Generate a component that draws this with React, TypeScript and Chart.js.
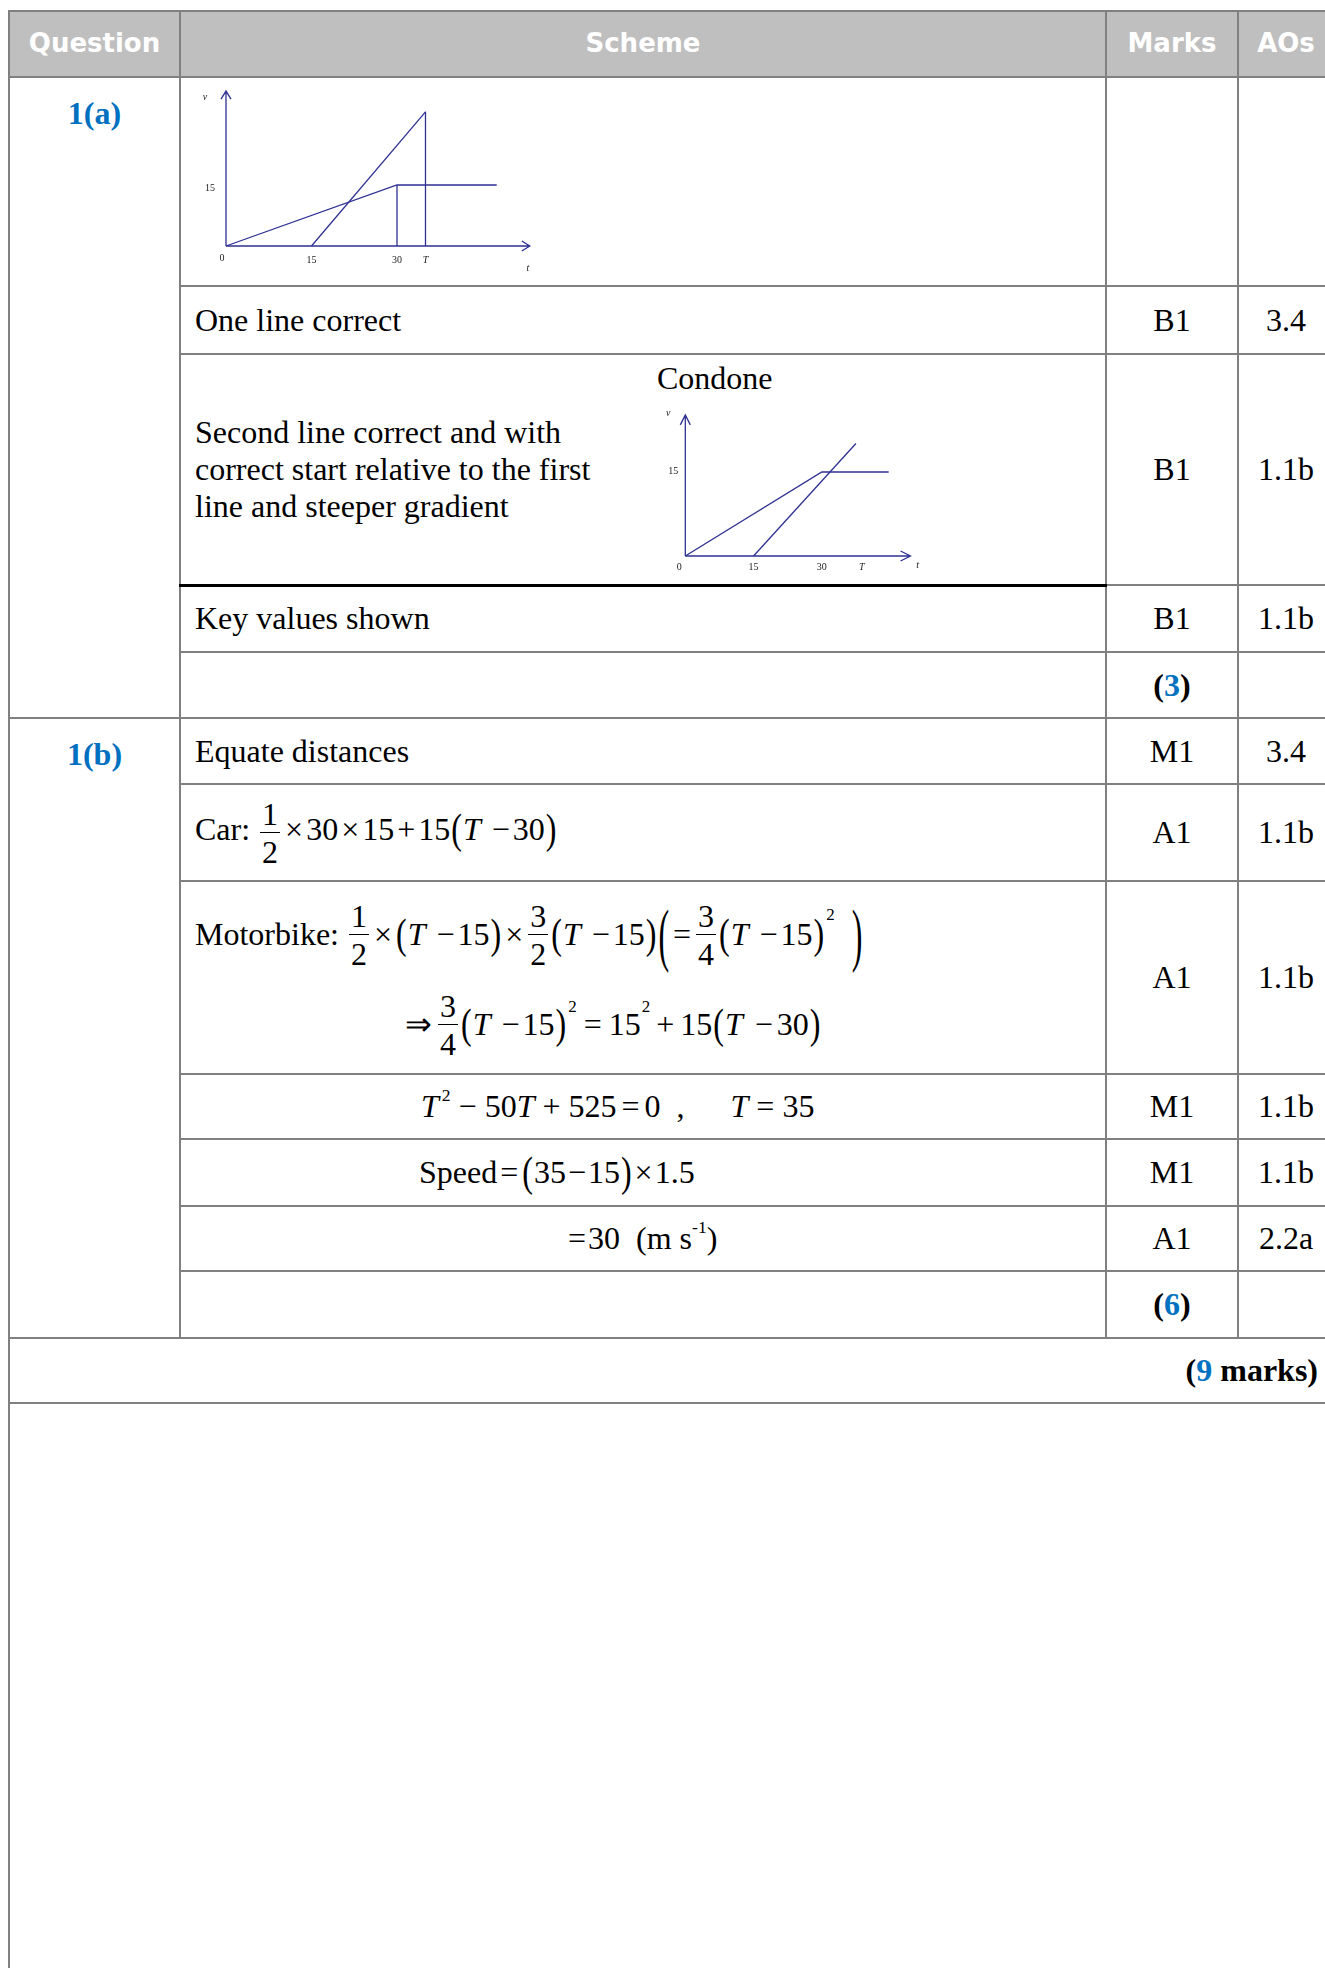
import React, { useEffect, useRef } from 'react';
import { Chart, registerables } from 'chart.js';

Chart.register(...registerables);

// ---------- data: chart in row 1(a) ----------
const G1_CAR_T = [0, 30, 47.5];
const G1_CAR_V = [0, 15, 15];
const G1_BIKE_T = [15, 35];
const G1_BIKE_V = [0, 33];
const G1_DROP_T = [30, 35];
const G1_DROP_V = [15, 33];
const G1_AXIS_END = [53.3, 38.1];
const G1_X_TICKS = [15, 30, 35];
const G1_X_LABELS = ['15', '30', 'T'];
const G1_Y_TICKS = [15];
const G1_Y_LABELS = ['15'];

// ---------- data: "Condone" chart ----------
const G2_CAR_T = [0, 30, 44.7];
const G2_CAR_V = [0, 15, 15];
const G2_BIKE_T = [15, 37.5];
const G2_BIKE_V = [0, 20.1];
const G2_AXIS_END = [49.5, 25.2];
const G2_X_TICKS = [15, 30, 38.8];
const G2_X_LABELS = ['15', '30', 'T'];
const G2_Y_TICKS = [15];
const G2_Y_LABELS = ['15'];

// ---------- table text ----------
const HEADERS = ['Question', 'Scheme', 'Marks', 'AOs'];
const MARKS_A = ['B1', 'B1', 'B1'];
const AOS_A = ['3.4', '1.1b', '1.1b'];
const MARKS_B = ['M1', 'A1', 'A1', 'M1', 'M1', 'A1'];
const AOS_B = ['3.4', '1.1b', '1.1b', '1.1b', '1.1b', '2.2a'];
const TOTAL_A = '3';
const TOTAL_B = '6';
const TOTAL_ALL = '9';

const SERIF = '"Liberation Serif", "Times New Roman", serif';
const SANS = 'Verdana, "DejaVu Sans", sans-serif';
const LINE = '#2e3192';
const BLUE = '#0070c0';
const GRID = '#808080';

type Spec = {
  w: number; h: number;
  xMin: number; xMax: number; yMin: number; yMax: number;
  lines: { t: number[]; v: number[] }[];
  axisEnd: number[];
  xTicks: number[]; xLabels: string[];
  yTicks: number[]; yLabels: string[];
  off: { xLab: number; o: number[]; yLab: number[]; v: number[]; t: number[]; ah: number; aw: number };
};

function makeConfig(s: Spec): any {
  const datasets = s.lines.map((ln) => ({
    data: ln.t.map((t, i) => ({ x: t, y: ln.v[i] })),
    showLine: true,
    borderColor: LINE,
    borderWidth: 1.3,
    pointRadius: 0,
    tension: 0,
    fill: false,
  }));
  const axesPlugin = {
    id: 'vtAxes',
    afterDatasetsDraw(chart: any) {
      const ctx = chart.ctx;
      const X = (v: number) => chart.scales.x.getPixelForValue(v);
      const Y = (v: number) => chart.scales.y.getPixelForValue(v);
      const ox = X(0), oy = Y(0), xe = X(s.axisEnd[0]), ye = Y(s.axisEnd[1]);
      const o = s.off;
      ctx.save();
      ctx.strokeStyle = LINE;
      ctx.lineWidth = 1.3;
      ctx.beginPath();
      ctx.moveTo(ox, oy); ctx.lineTo(xe, oy);
      ctx.moveTo(ox, oy); ctx.lineTo(ox, ye);
      ctx.moveTo(xe - o.ah, oy - o.aw); ctx.lineTo(xe, oy); ctx.lineTo(xe - o.ah, oy + o.aw);
      ctx.moveTo(ox - o.aw, ye + o.ah); ctx.lineTo(ox, ye); ctx.lineTo(ox + o.aw, ye + o.ah);
      ctx.stroke();
      ctx.fillStyle = '#222';
      ctx.textAlign = 'center';
      ctx.textBaseline = 'middle';
      const plain = `10px ${SERIF}`;
      const ital = `italic 10px ${SERIF}`;
      s.xTicks.forEach((v, i) => {
        const lab = s.xLabels[i];
        ctx.font = /^[A-Za-z]$/.test(lab) ? ital : plain;
        ctx.fillText(lab, X(v), oy + o.xLab);
      });
      ctx.font = plain;
      ctx.fillText('0', ox + o.o[0], oy + o.o[1]);
      s.yTicks.forEach((v, i) => ctx.fillText(s.yLabels[i], ox + o.yLab[0], Y(v) + o.yLab[1]));
      ctx.font = ital;
      ctx.fillText('v', ox + o.v[0], ye + o.v[1]);
      ctx.fillText('t', xe + o.t[0], oy + o.t[1]);
      ctx.restore();
    },
  };
  return {
    type: 'scatter',
    data: { datasets },
    options: {
      animation: false,
      responsive: false,
      maintainAspectRatio: false,
      devicePixelRatio: 1,
      layout: { padding: 0 },
      plugins: { legend: { display: false }, tooltip: { enabled: false } },
      scales: {
        x: { type: 'linear', min: s.xMin, max: s.xMax, display: false },
        y: { type: 'linear', min: s.yMin, max: s.yMax, display: false },
      },
    },
    plugins: [axesPlugin],
  };
}

function VtChart({ spec, style }: { spec: Spec; style: React.CSSProperties }) {
  const ref = useRef<HTMLCanvasElement>(null);
  useEffect(() => {
    const chart = new Chart(ref.current as HTMLCanvasElement, makeConfig(spec));
    return () => chart.destroy();
  }, []);
  return <canvas ref={ref} width={spec.w} height={spec.h} style={{ position: 'absolute', width: spec.w, height: spec.h, ...style }} />;
}

const SPEC1: Spec = {
  w: 360, h: 200,
  xMin: -6.14, xMax: 57.02, yMin: -8.36, yMax: 40.82,
  lines: [
    { t: G1_CAR_T, v: G1_CAR_V },
    { t: G1_BIKE_T, v: G1_BIKE_V },
    ...G1_DROP_T.map((t, i) => ({ t: [t, t], v: [G1_DROP_V[i], 0] })),
  ],
  axisEnd: G1_AXIS_END,
  xTicks: G1_X_TICKS, xLabels: G1_X_LABELS,
  yTicks: G1_Y_TICKS, yLabels: G1_Y_LABELS,
  off: { xLab: 14, o: [-4, 12], yLab: [-16, 3], v: [-21, 6], t: [-2, 22], ah: 8, aw: 5 },
};

const SPEC2: Spec = {
  w: 290, h: 180,
  xMin: -7.54, xMax: 56.2, yMin: -4.29, yMax: 27.86,
  lines: [
    { t: G2_CAR_T, v: G2_CAR_V },
    { t: G2_BIKE_T, v: G2_BIKE_V },
  ],
  axisEnd: G2_AXIS_END,
  xTicks: G2_X_TICKS, xLabels: G2_X_LABELS,
  yTicks: G2_Y_TICKS, yLabels: G2_Y_LABELS,
  off: { xLab: 11, o: [-6, 11], yLab: [-12, -1], v: [-17, -2], t: [7, 9], ah: 10, aw: 5 },
};

// ---------- math helpers ----------
const Frac = ({ n, d }: { n: string; d: string }) => (
  <span style={{ display: 'inline-flex', flexDirection: 'column', alignItems: 'center', verticalAlign: 'middle', lineHeight: 1, margin: '0 2px' }}>
    <span style={{ borderBottom: '1.5px solid #000', padding: '0 2px 2px' }}>{n}</span>
    <span style={{ paddingTop: 3 }}>{d}</span>
  </span>
);
const P = ({ c, s = 1.3 }: { c: string; s?: number }) => (
  <span style={{ display: 'inline-block', transform: `scaleY(${s})`, margin: '0 1px' }}>{c}</span>
);
const Ti = () => <i>T</i>;
const Sup = ({ c, ml = 0 }: { c: string; ml?: number }) => (
  <sup style={{ fontSize: '0.55em', verticalAlign: '0.9em', lineHeight: 0, marginLeft: ml }}>{c}</sup>
);
const Sq = ({ mt }: { mt: number }) => (
  <span style={{ fontSize: 17, alignSelf: 'flex-start', marginTop: mt, marginLeft: 1 }}>2</span>
);
const Op = ({ c, m = 3 }: { c: string; m?: number }) => <span style={{ margin: `0 ${m}px` }}>{c}</span>;

const border = `2px solid ${GRID}`;
const td: React.CSSProperties = { border, padding: 0, verticalAlign: 'middle' };
const schemeTd: React.CSSProperties = { ...td, paddingLeft: 14, textAlign: 'left', whiteSpace: 'nowrap' };
const markTd: React.CSSProperties = { ...td, textAlign: 'center' };
const qTd: React.CSSProperties = { ...td, verticalAlign: 'top', textAlign: 'center', paddingTop: 17, color: BLUE, fontWeight: 'bold' };

const Total = ({ n }: { n: string }) => (
  <b>(<span style={{ color: BLUE }}>{n}</span>)</b>
);

export default function App() {
  return (
    <div style={{ position: 'fixed', left: 0, top: 0, width: 1325, height: 1968, overflow: 'hidden', background: '#fff' }}>
      <table
        style={{
          position: 'absolute', left: 8, top: 10, width: 1325,
          borderCollapse: 'collapse', tableLayout: 'fixed',
          fontFamily: SERIF, fontSize: 32, lineHeight: 1.15, color: '#000',
        }}
      >
        <colgroup>
          <col style={{ width: 171 }} />
          <col style={{ width: 926 }} />
          <col style={{ width: 132 }} />
          <col style={{ width: 96 }} />
        </colgroup>
        <tbody>
          <tr style={{ height: 66 }}>
            {HEADERS.map((h) => (
              <th key={h} style={{ border, background: '#bfbfbf', color: '#fff', fontFamily: SANS, fontSize: 26, fontWeight: 'bold', textAlign: 'center', verticalAlign: 'middle', padding: 0 }}>{h}</th>
            ))}
          </tr>
          <tr style={{ height: 209 }}>
            <td rowSpan={5} style={qTd}>1(a)</td>
            <td style={{ ...td, position: 'relative' }}>
              <VtChart spec={SPEC1} style={{ left: 10, top: 2 }} />
            </td>
            <td style={markTd}></td>
            <td style={markTd}></td>
          </tr>
          <tr style={{ height: 68 }}>
            <td style={schemeTd}>One line correct</td>
            <td style={markTd}>{MARKS_A[0]}</td>
            <td style={markTd}>{AOS_A[0]}</td>
          </tr>
          <tr style={{ height: 231 }}>
            <td style={{ ...schemeTd, position: 'relative', borderBottom: '3px solid #000' }}>
              <div>Second line correct and with<br />correct start relative to the first<br />line and steeper gradient</div>
              <div style={{ position: 'absolute', left: 476, top: 5 }}>Condone</div>
              <VtChart spec={SPEC2} style={{ left: 470, top: 45 }} />
            </td>
            <td style={markTd}>{MARKS_A[1]}</td>
            <td style={markTd}>{AOS_A[1]}</td>
          </tr>
          <tr style={{ height: 67 }}>
            <td style={schemeTd}>Key values shown</td>
            <td style={markTd}>{MARKS_A[2]}</td>
            <td style={markTd}>{AOS_A[2]}</td>
          </tr>
          <tr style={{ height: 66 }}>
            <td style={schemeTd}></td>
            <td style={markTd}><Total n={TOTAL_A} /></td>
            <td style={markTd}></td>
          </tr>

          <tr style={{ height: 66 }}>
            <td rowSpan={7} style={qTd}>1(b)</td>
            <td style={schemeTd}>Equate distances</td>
            <td style={markTd}>{MARKS_B[0]}</td>
            <td style={markTd}>{AOS_B[0]}</td>
          </tr>
          <tr style={{ height: 97 }}>
            <td style={schemeTd}>
              Car:&nbsp;<Frac n="1" d="2" /><Op c="×" />30<Op c="×" />15<Op c="+" />15<P c="(" /><Ti />&nbsp;<Op c="−" />30<P c=")" />
            </td>
            <td style={markTd}>{MARKS_B[1]}</td>
            <td style={markTd}>{AOS_B[1]}</td>
          </tr>
          <tr style={{ height: 193 }}>
            <td style={schemeTd}>
              <div style={{ display: 'flex', flexDirection: 'column', gap: 14 }}>
                <div style={{ display: 'flex', alignItems: 'center', height: 80 }}>
                  <span>Motorbike:&nbsp;</span>
                  <Frac n="1" d="2" /><Op c="×" /><P c="(" /><Ti />&nbsp;<Op c="−" />15<P c=")" /><Op c="×" />
                  <Frac n="3" d="2" /><P c="(" /><Ti />&nbsp;<Op c="−" />15<P c=")" />
                  <P c="(" s={2.2} /><Op c="=" /><Frac n="3" d="4" /><P c="(" /><Ti />&nbsp;<Op c="−" />15<P c=")" /><Sq mt={10} />&nbsp;&nbsp;<P c=")" s={2.2} />
                </div>
                <div style={{ display: 'flex', alignItems: 'center', height: 72, marginLeft: 210 }}>
                  <span style={{ marginRight: 4 }}>⇒</span><Frac n="3" d="4" /><P c="(" /><Ti />&nbsp;<Op c="−" />15<P c=")" /><Sq mt={8} />
                  <Op c="=" m={7} />15<Sq mt={8} /><Op c="+" m={6} />15<P c="(" /><Ti />&nbsp;<Op c="−" m={4} />30<P c=")" />
                </div>
              </div>
            </td>
            <td style={markTd}>{MARKS_B[2]}</td>
            <td style={markTd}>{AOS_B[2]}</td>
          </tr>
          <tr style={{ height: 65 }}>
            <td style={{ ...schemeTd, paddingLeft: 240 }}>
              <Ti /><Sup c="2" ml={3} /><Op c="−" m={8} />50<Ti /><Op c="+" m={8} />525<Op c="=" m={5} />0&nbsp;&nbsp;,<span style={{ display: 'inline-block', width: 46 }}></span><Ti /><Op c="=" m={8} />35
            </td>
            <td style={markTd}>{MARKS_B[3]}</td>
            <td style={markTd}>{AOS_B[3]}</td>
          </tr>
          <tr style={{ height: 67 }}>
            <td style={{ ...schemeTd, paddingLeft: 238 }}>
              Speed<Op c="=" m={3} /><P c="(" />35<Op c="−" m={2} />15<P c=")" /><Op c="×" m={2} />1.5
            </td>
            <td style={markTd}>{MARKS_B[4]}</td>
            <td style={markTd}>{AOS_B[4]}</td>
          </tr>
          <tr style={{ height: 65 }}>
            <td style={{ ...schemeTd, paddingLeft: 385 }}>
              <Op c="=" m={2} />30&nbsp;&nbsp;(m s<Sup c="-1" />)
            </td>
            <td style={markTd}>{MARKS_B[5]}</td>
            <td style={markTd}>{AOS_B[5]}</td>
          </tr>
          <tr style={{ height: 67 }}>
            <td style={schemeTd}></td>
            <td style={markTd}><Total n={TOTAL_B} /></td>
            <td style={markTd}></td>
          </tr>
          <tr style={{ height: 65 }}>
            <td colSpan={4} style={{ ...td, textAlign: 'right', paddingRight: 15 }}>
              <b>(<span style={{ color: BLUE }}>{TOTAL_ALL}</span> marks)</b>
            </td>
          </tr>
          <tr style={{ height: 620 }}>
            <td colSpan={4} style={td}></td>
          </tr>
        </tbody>
      </table>
    </div>
  );
}
